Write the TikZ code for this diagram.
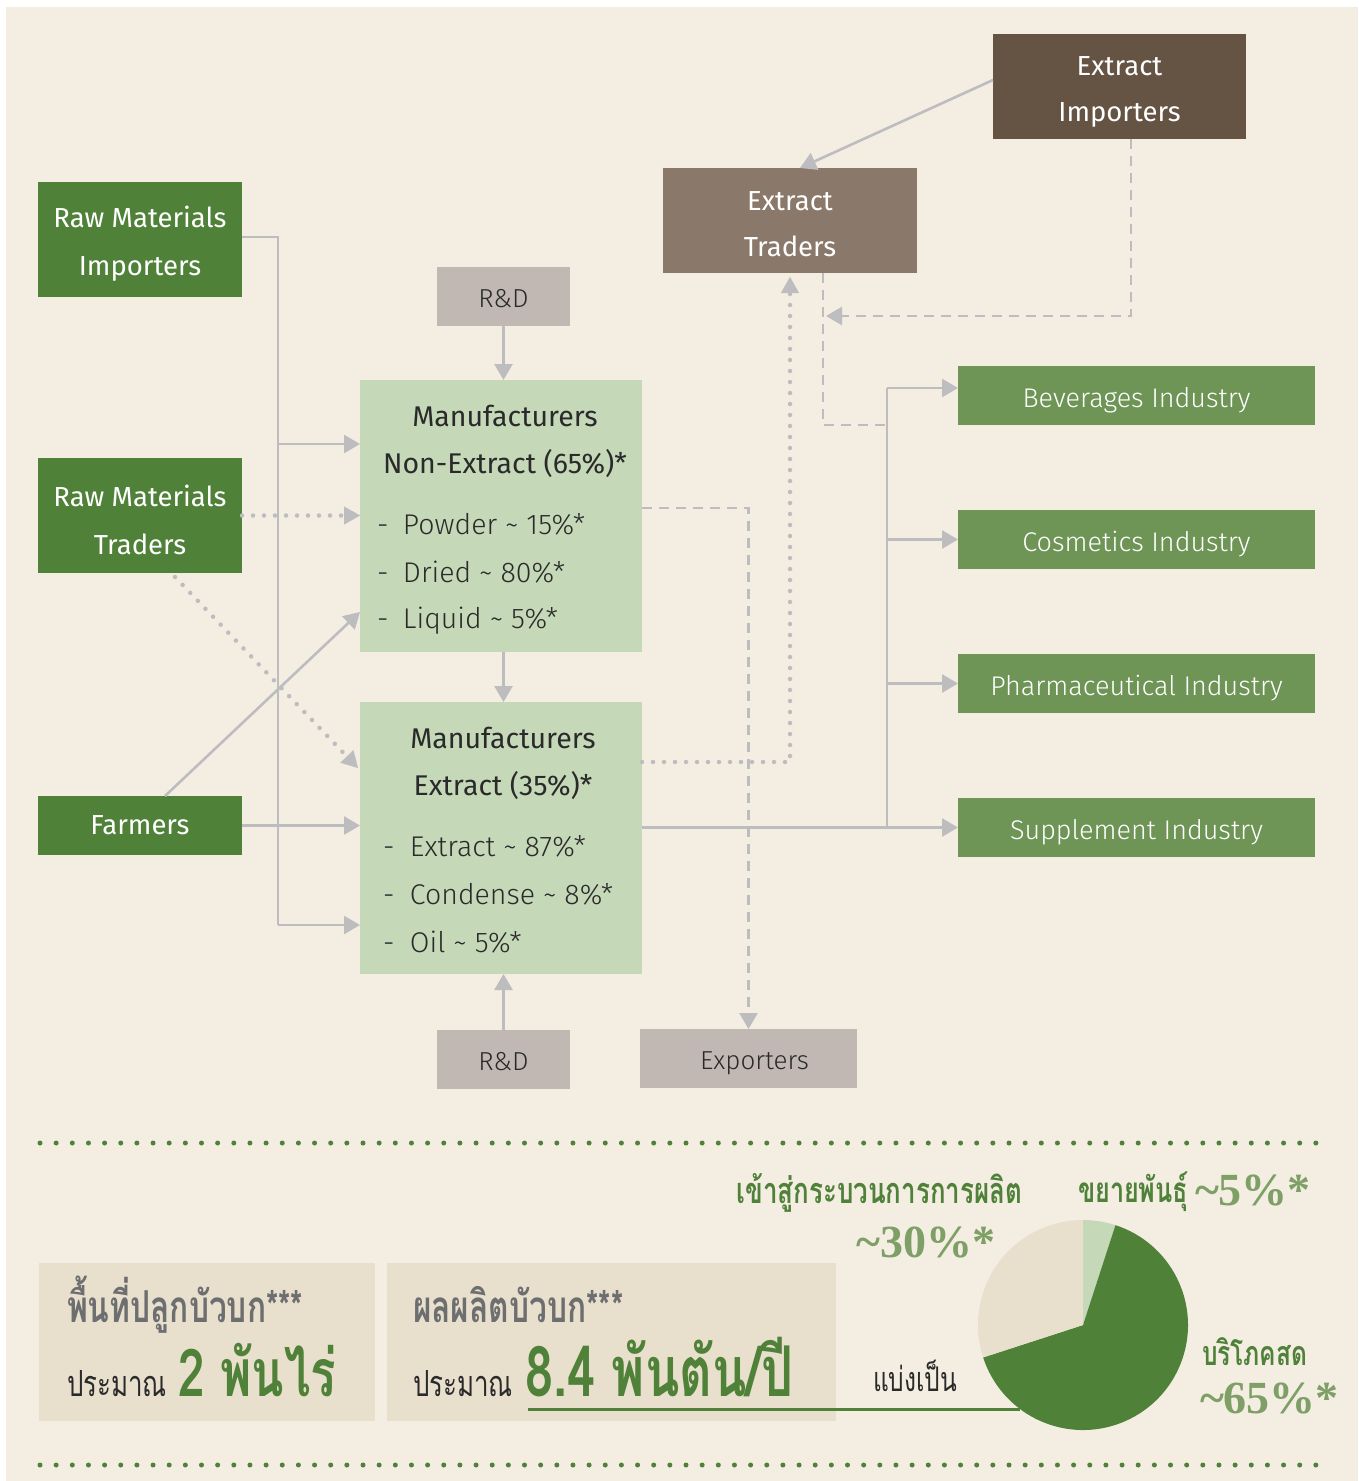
\documentclass[tikz,border=0pt]{standalone}
\usepackage{fontspec}
\usetikzlibrary{arrows.meta,calc}
\setmainfont{Fira Sans}
\newfontfamily\lat{Fira Sans}
\newfontfamily\latl[UprightFont={* Light}]{Fira Sans}
\newfontfamily\thai[Script=Thai,FakeStretch=0.72]{Loma}
\newfontfamily\pctf{Liberation Serif}
\definecolor{bgc}{HTML}{F3EDE2}
\definecolor{dkgreen}{HTML}{4F8139}
\definecolor{midgreen}{HTML}{6E9456}
\definecolor{ltgreen}{HTML}{C5D8B8}
\definecolor{dkbrown}{HTML}{655344}
\definecolor{mdbrown}{HTML}{8A786A}
\definecolor{graybox}{HTML}{C2B8B3}
\definecolor{lgray}{HTML}{BDBDC0}
\definecolor{thaibox}{HTML}{E8DFCC}
\definecolor{pctgreen}{HTML}{7E9F66}
\definecolor{txtdark}{HTML}{2A2A2A}
\definecolor{txtgray}{HTML}{6D6E70}
\begin{document}
\begin{tikzpicture}[x=1pt,y=-1pt,every node/.style={inner sep=0pt,outer sep=0pt}]
\tikzset{
 gbox/.style={fill=dkgreen,text=white,minimum width=204pt,align=center,font=\lat\fontsize{27.5}{48}\selectfont},
 bbox/.style={text=white,minimum width=254pt,minimum height=105pt,align=center,font=\lat\fontsize{27.5}{46}\selectfont},
 ibox/.style={fill=midgreen,text=white,minimum width=357pt,minimum height=59pt,text height=24pt,text depth=0pt,font=\latl\fontsize{27}{30}\selectfont},
 rbox/.style={fill=graybox,text=txtdark,minimum height=59pt,text height=21pt,text depth=0pt,font=\latl\fontsize{26}{28}\selectfont},
 mbox/.style={fill=ltgreen,minimum width=282pt,minimum height=272pt},
 mhead/.style={text=txtdark,font=\lat\fontsize{28.5}{30}\selectfont},
 mitem/.style={anchor=west,text=txtdark,font=\latl\fontsize{28.5}{30}\selectfont},
 ln/.style={draw=lgray,line width=2.6pt},
 arr/.style={-{Triangle[length=16pt,width=18pt]}},
 dsh/.style={ln,dash pattern=on 10pt off 7pt},
 dts/.style={draw=lgray,line width=4.5pt,line cap=round,dash pattern=on 0pt off 11pt},
 gdots/.style={draw=dkgreen,line width=5pt,line cap=round,dash pattern=on 0pt off 16.15pt},
 thaitxt/.style={anchor=base west},
}
\useasboundingbox (0,0) rectangle (1359,1481);
\fill[white] (0,0) rectangle (1359,1481);
\fill[bgc] (6,7) rectangle (1358,1481);

% ---- nodes ----
\node[gbox,minimum height=115pt] (rmi) at (140,239.5) {\rule{0pt}{30pt}Raw Materials\\Importers};
\node[gbox,minimum height=115pt] (rmt) at (140,515.5) {\rule{0pt}{30pt}Raw Materials\\Traders};
\node[gbox,minimum height=59pt] (farm) at (140,825.5) {Farmers};
\node[rbox,minimum width=133pt] (rd1) at (503.5,296.5) {R\&D};
\node[rbox,minimum width=133pt] (rd2) at (503.5,1059.5) {R\&D};
\node[rbox,minimum width=217pt] (exp) at (748.5,1058.5) {\hspace{12pt}Exporters};
\node[mbox] (mne) at (501,516) {};
\node[mbox] (mex) at (501,838) {};
\node[bbox,fill=mdbrown] (etr) at (790,220.5) {\rule{0pt}{27pt}Extract\\Traders};
\node[bbox,fill=dkbrown,minimum width=253pt] (eim) at (1119.5,86.5) {\rule{0pt}{30pt}Extract\\Importers};
\node[ibox] (bev) at (1136.5,395.5) {Beverages Industry};
\node[ibox] (cos) at (1136.5,539.5) {Cosmetics Industry};
\node[ibox] (pha) at (1136.5,683.5) {Pharmaceutical Industry};
\node[ibox] (sup) at (1136.5,827.5) {Supplement Industry};

% manufacturer texts
\node[mhead] (mneh1) at (505,416) {Manufacturers};
\node[mhead] (mneh2) at (505,464) {Non-Extract (65\%)*};
\node[mitem] (mnei1) at (377,524) {\makebox[26pt][l]{-}Powder \textasciitilde{} 15\%*};
\node[mitem] (mnei2) at (377,572) {\makebox[26pt][l]{-}Dried \textasciitilde{} 80\%*};
\node[mitem] (mnei3) at (377,621) {\makebox[26pt][l]{-}Liquid \textasciitilde{} 5\%*};
\node[mhead] (mexh1) at (503,738) {Manufacturers};
\node[mhead] (mexh2) at (503,786) {Extract (35\%)*};
\node[mitem] (mexi1) at (383,846) {\makebox[27pt][l]{-}Extract \textasciitilde{} 87\%*};
\node[mitem] (mexi2) at (383,894) {\makebox[27pt][l]{-}Condense \textasciitilde{} 8\%*};
\node[mitem] (mexi3) at (383,942) {\makebox[27pt][l]{-}Oil \textasciitilde{} 5\%*};

% ---- junction coordinates ----
\coordinate (jTop) at (278,237);
\coordinate (jA) at (278,444);
\coordinate (jB) at (278,925);
\coordinate (fa) at (165,796);
\coordinate (fb) at (360,612);
\coordinate (ta) at (175,577);
\coordinate (tb) at (358,768);
\coordinate (ndA) at (642,508);
\coordinate (xdA) at (642,762);
\coordinate (tr) at (887,388);
\coordinate (etA) at (823,273);
\coordinate (etB) at (823,425);
\coordinate (eiA) at (1131,139);
\coordinate (eiB) at (1131,316);
\coordinate (eiC) at (826,316);
\coordinate (eiD) at (993,80);
\coordinate (eiE) at (800,168);

% ---- connectors ----
\draw[ln] (rmi.east |- jTop) -- (jTop) -- (jB);
\draw[ln,arr] (jA) -- (jA -| mne.west);
\draw[ln,arr] (jB) -- (jB -| mex.west);
\draw[dts] (rmt.east) -- ($(rmt.east -| mne.west)+(-14,0)$);
\draw[lgray,arr,line width=0.1pt] ($(rmt.east -| mne.west)+(-6,0)$) -- (rmt.east -| mne.west);
\draw[dts] (ta) -- ($(ta)!0.93!(tb)$);
\draw[lgray,arr,line width=0.1pt] ($(ta)!0.95!(tb)$) -- (tb);
\draw[ln,arr] (fa) -- (fb);
\draw[ln,arr] (farm.east) -- (farm.east -| mex.west);
\draw[ln,arr] (rd1.south) -- (rd1.south |- mne.north);
\draw[ln,arr] (mne.south -| rd1.south) -- (mex.north -| rd1.south);
\draw[ln,arr] (rd2.north) -- (rd2.north |- mex.south);
\draw[dsh,arr] (ndA) -| (exp.north);
\draw[dts] (xdA) -| ($(etr.south)+(0,18)$);
\draw[lgray,arr,line width=0.1pt] ($(etr.south)+(0,8)$) -- ($(etr.south)+(0,4)$);
\draw[ln] (sup.west -| mex.east) -- (sup.west -| tr);
\draw[ln] (sup.west -| tr) -- (tr);
\draw[ln,arr] (tr) -- (tr -| bev.west);
\draw[ln,arr] (cos.west -| tr) -- (cos.west);
\draw[ln,arr] (pha.west -| tr) -- (pha.west);
\draw[ln,arr] (sup.west -| tr) -- (sup.west);
\draw[dsh] (etA) -- (etB) -- (etB -| tr);
\draw[dsh,arr] (eiA) -- (eiB) -- (eiC);
\draw[ln,arr] (eiD) -- (eiE);

% ---- bottom section ----
\draw[gdots] (40,1143) -- (1318,1143);
\draw[gdots] (40,1465) -- (1318,1465);
\node[fill=thaibox,minimum width=336pt,minimum height=158pt] (tb1) at (207,1342) {};
\node[fill=thaibox,minimum width=449pt,minimum height=158pt] (tb2) at (611.5,1342) {};
\node[thaitxt,text=txtgray,font=\thai\bfseries\fontsize{44}{48}\selectfont] (t1a) at (67,1322) {พื้นที่ปลูกบัวบก***};
\node[thaitxt,text=txtdark,font=\thai\fontsize{36}{40}\selectfont] (t1b) at (67,1396) {ประมาณ};
\node[thaitxt,text=dkgreen,font=\thai\bfseries\fontsize{66}{70}\selectfont] (t1c) at (178,1396) {2 พันไร่};
\node[thaitxt,text=txtgray,font=\thai\bfseries\fontsize{44}{48}\selectfont] (t2a) at (413,1322) {ผลผลิตบัวบก***};
\node[thaitxt,text=txtdark,font=\thai\fontsize{36}{40}\selectfont] (t2b) at (413,1396) {ประมาณ};
\node[thaitxt,text=dkgreen,font=\thai\bfseries\fontsize{70}{74}\selectfont] (t2c) at (525,1396) {8.4 พันตัน/ปี};
\coordinate (ulA) at (528,1409);
\coordinate (ulB) at (1020,1409);
\draw[dkgreen,line width=3pt] (ulA) -- (ulB);
\node[thaitxt,text=txtdark,font=\thai\fontsize{34}{38}\selectfont] (t3) at (873,1391) {แบ่งเป็น};

% pie
\coordinate (pc) at (1083,1325);
\fill[ltgreen] (pc) -- ++(-90:105) arc[start angle=-90,end angle=-72,radius=105] -- cycle;
\fill[dkgreen] (pc) -- ++(-72:105) arc[start angle=-72,end angle=162,radius=105] -- cycle;
\fill[thaibox] (pc) -- ++(162:105) arc[start angle=162,end angle=270,radius=105] -- cycle;

\node[anchor=base east,text=dkgreen,font=\thai\bfseries\fontsize{36}{40}\selectfont] (l30a) at (1022,1203) {เข้าสู่กระบวนการการผลิต};
\node[anchor=base east,text=pctgreen,font=\pctf\bfseries\fontsize{46}{50}\selectfont] (l30b) at (995,1257) {\textasciitilde30\%*};
\node[thaitxt,text=dkgreen,font=\thai\bfseries\fontsize{35}{38}\selectfont] (l5a) at (1078,1202) {ขยายพันธุ์};
\node[thaitxt,text=pctgreen,font=\pctf\bfseries\fontsize{46}{50}\selectfont] (l5b) at (1195,1205) {\textasciitilde5\%*};
\node[thaitxt,text=dkgreen,font=\thai\bfseries\fontsize{34}{38}\selectfont] (l65a) at (1202,1365) {บริโภคสด};
\node[thaitxt,text=pctgreen,font=\pctf\bfseries\fontsize{46}{50}\selectfont] (l65b) at (1200,1413) {\textasciitilde65\%*};
\end{tikzpicture}
\end{document}
